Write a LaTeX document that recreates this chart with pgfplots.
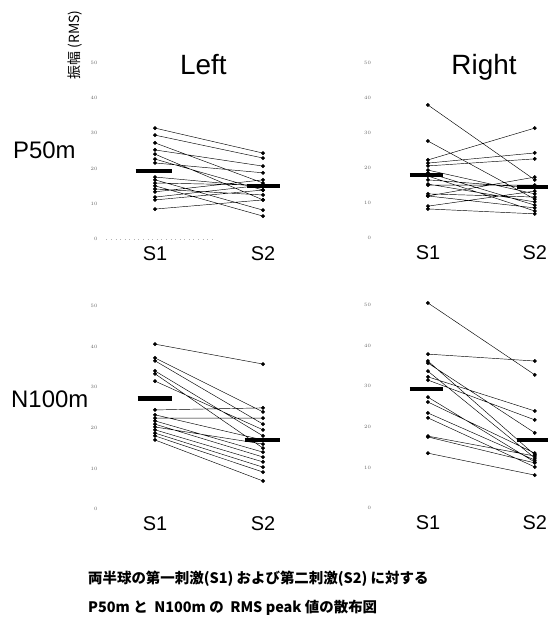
\documentclass[border=0pt]{standalone}
\usepackage{fontspec}
\setmainfont{Liberation Sans}
\newfontfamily\cjk{Noto Sans CJK JP}
\usepackage{pgfplots}
\pgfplotsset{compat=1.18}
\pgfplotsset{
  panel/.style={
    scale only axis, anchor=south west, clip=false,
    axis line style={draw=none}, major tick length=0pt,
    xmin=-0.5, xmax=1.25, ymin=0, ymax=50,
    xtick={0,1}, xticklabels={S1,S2},
    ytick={0,10,20,30,40,50},
    xticklabel style={font=\fontsize{20}{20}\selectfont, yshift=-4pt},
    yticklabel style={font=\fontsize{4}{4}\selectfont, text=black!60},
  },
  pairs/.style={black, line width=0.45pt, mark=*, mark size=1.7pt, unbounded coords=jump},
  meanbar/.style={black, line width=4.2bp, no markers},
}
\begin{document}
\begin{tikzpicture}[x=1bp,y=1bp]
\useasboundingbox (0,0) rectangle (548,618);
% ---------- P50m Left
\begin{axis}[panel, at={(101bp,379bp)}, width=189bp, height=176bp]
\draw[gray!60, loosely dotted, line width=0.6pt] (axis cs:-0.45,0) -- (axis cs:0.55,0);
\addplot[pairs] coordinates {
(0,31.5)(1,24.4)(0,nan)
(0,29.5)(1,23.0)(0,nan)
(0,27.3)(1,15.9)(0,nan)
(0,25.3)(1,20.7)(0,nan)
(0,24.1)(1,11.1)(0,nan)
(0,22.7)(1,13.9)(0,nan)
(0,21.6)(1,18.8)(0,nan)
(0,17.6)(1,14.8)(0,nan)
(0,16.8)(1,8.2)(0,nan)
(0,15.9)(1,15.3)(0,nan)
(0,15.1)(1,6.5)(0,nan)
(0,14.2)(1,12.5)(0,nan)
(0,13.4)(1,16.8)(0,nan)
(0,11.9)(1,15.3)(0,nan)
(0,11.1)(1,13.9)(0,nan)
(0,8.5)(1,11.1)
};
\addplot[meanbar] coordinates {(-0.18,19.4) (0.16,19.4)};
\addplot[meanbar] coordinates {(0.85,15.1) (1.16,15.1)};
\end{axis}
% ---------- P50m Right
\begin{axis}[panel, at={(374.5bp,380bp)}, width=187bp, height=175bp]
\addplot[pairs] coordinates {
(0,38.0)(1,16.6)(0,nan)
(0,27.7)(1,11.1)(0,nan)
(0,22.3)(1,31.4)(0,nan)
(0,21.4)(1,24.3)(0,nan)
(0,20.6)(1,22.6)(0,nan)
(0,19.4)(1,12.6)(0,nan)
(0,18.6)(1,9.4)(0,nan)
(0,17.7)(1,7.7)(0,nan)
(0,16.6)(1,14.3)(0,nan)
(0,15.4)(1,10.3)(0,nan)
(0,15.1)(1,15.1)(0,nan)
(0,12.6)(1,11.7)(0,nan)
(0,12.0)(1,8.6)(0,nan)
(0,12.0)(1,17.4)(0,nan)
(0,9.1)(1,13.4)(0,nan)
(0,8.3)(1,6.9)
};
\addplot[meanbar] coordinates {(-0.17,18.0) (0.14,18.0)};
\addplot[meanbar] coordinates {(0.83,14.6) (1.17,14.6)};
\end{axis}
% ---------- N100m Left
\begin{axis}[panel, at={(101bp,109bp)}, width=189bp, height=203bp]
\addplot[pairs] coordinates {
(0,40.6)(1,35.7)(0,nan)
(0,37.2)(1,23.9)(0,nan)
(0,36.5)(1,20.9)(0,nan)
(0,34.0)(1,18.0)(0,nan)
(0,33.3)(1,15.0)(0,nan)
(0,31.5)(1,19.5)(0,nan)
(0,24.4)(1,24.9)(0,nan)
(0,23.2)(1,17.0)(0,nan)
(0,22.4)(1,22.4)(0,nan)
(0,21.7)(1,14.0)(0,nan)
(0,20.9)(1,12.8)(0,nan)
(0,20.2)(1,16.0)(0,nan)
(0,19.5)(1,11.6)(0,nan)
(0,18.7)(1,10.3)(0,nan)
(0,18.0)(1,9.1)(0,nan)
(0,17.0)(1,6.9)
};
\addplot[meanbar] coordinates {(-0.16,27.2) (0.16,27.2)};
\addplot[meanbar] coordinates {(0.83,17.0) (1.16,17.0)};
\end{axis}
% ---------- N100m Right
\begin{axis}[panel, at={(374.5bp,110bp)}, width=187bp, height=203bp]
\addplot[pairs] coordinates {
(0,50.5)(1,32.8)(0,nan)
(0,37.9)(1,36.2)(0,nan)
(0,36.2)(1,13.1)(0,nan)
(0,35.7)(1,18.5)(0,nan)
(0,33.7)(1,12.3)(0,nan)
(0,32.3)(1,23.9)(0,nan)
(0,31.5)(1,21.7)(0,nan)
(0,27.3)(1,11.3)(0,nan)
(0,26.1)(1,13.5)(0,nan)
(0,23.4)(1,11.8)(0,nan)
(0,22.2)(1,10.1)(0,nan)
(0,17.7)(1,12.8)(0,nan)
(0,17.5)(1,11.1)(0,nan)
(0,13.5)(1,8.1)
};
\addplot[meanbar] coordinates {(-0.17,29.3) (0.14,29.3)};
\addplot[meanbar] coordinates {(0.83,16.7) (1.17,16.7)};
\end{axis}
% ---------- texts
\node[anchor=base west, inner sep=0pt, font=\fontsize{28}{28}\selectfont] at (180,543) {Left};
\node[anchor=base, inner sep=0pt, font=\fontsize{28}{28}\selectfont] at (484,543) {Right};
\node[anchor=west, inner sep=0pt, font=\fontsize{24}{24}\selectfont] at (13,468) {P50m};
\node[anchor=west, inner sep=0pt, font=\fontsize{24}{24}\selectfont] at (11,219) {N100m};
\node[rotate=90, inner sep=0pt, font=\cjk\fontsize{14}{14}\selectfont] at (75,573) {振幅 (RMS)};
\node[anchor=west, inner sep=0pt, font=\cjk\bfseries\fontsize{14.5}{14.5}\selectfont] at (88,39) {両半球の第一刺激(S1) および第二刺激(S2) に対する};
\node[anchor=west, inner sep=0pt, font=\cjk\bfseries\fontsize{14.5}{14.5}\selectfont] at (88,10) {P50m と\ \ N100m の\ \ RMS peak 値の散布図};
\end{tikzpicture}
\end{document}
